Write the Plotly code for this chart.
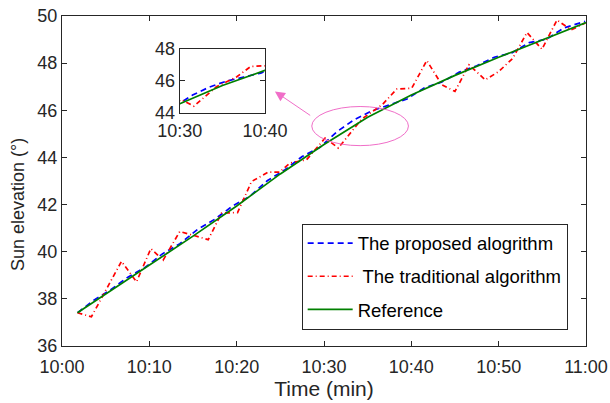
import plotly.graph_objects as go

# ---------------- data (minutes after 10:00, sun elevation in degrees) ----------------
ref_t = [1.77, 5, 10, 15, 20, 25, 30, 35, 40, 45, 50, 55, 60]
ref_v = [37.41, 38.2, 39.42, 40.66, 41.94, 43.3, 44.55, 45.7, 46.65, 47.48, 48.25, 49.0, 49.72]

prop_t = [1.8, 3.5, 5.5, 7.5, 9.5, 11.5, 13.5, 15.5, 17.5, 19.5, 21.5, 23.5, 25.5, 27.5, 29.5,
          31.5, 33.5, 35.5, 37.5, 39.5, 41.5, 43.5, 45.5, 47.5, 49.5, 51.5, 53.5, 55.5, 57.5, 59.9]
prop_v = [37.41, 37.91, 38.37, 38.91, 39.33, 39.91, 40.34, 40.94, 41.38, 41.93, 42.35, 43.01, 43.47, 44.04, 44.42,
          45.10, 45.61, 45.98, 46.23, 46.48, 46.95, 47.20, 47.62, 47.89, 48.25, 48.43, 48.87, 49.02, 49.50, 49.77]

trad_t = [1.77, 3.37, 6.81, 8.53, 10.17, 11.58, 13.49, 14.83, 16.74, 18.27, 20.1, 21.71, 23.62, 24.9,
          26.1, 28.0, 30.12, 31.64, 34.3, 36.7, 38.33, 40.05, 41.77, 43.49, 45.0, 46.6, 48.46, 50.0,
          51.6, 53.24, 54.96, 56.68, 58.3, 59.92]
trad_v = [37.41, 37.24, 39.59, 38.72, 40.13, 39.64, 40.86, 40.72, 40.51, 41.64, 41.66, 42.98, 43.38, 43.38,
          43.76, 43.9, 44.82, 44.4, 45.62, 46.25, 46.9, 46.94, 48.11, 47.08, 46.8, 47.93, 47.29, 47.64,
          48.2, 49.3, 48.59, 49.83, 49.41, 49.7]

x_tickvals = [0, 10, 20, 30, 40, 50, 60]
x_ticktext = ["10:00", "10:10", "10:20", "10:30", "10:40", "10:50", "11:00"]
inset_tickvals = [30, 40]
inset_ticktext = ["10:30", "10:40"]

FONT = "Arial, 'Liberation Sans', sans-serif"
AX = "#262626"
BLUE, RED, GREEN = "#0000ff", "#ff0000", "#008000"
PINK = "#f06ec8"

fig = go.Figure()

series = [
    ("The proposed alogrithm", prop_t, prop_v, BLUE, "6px,4px", "g1"),
    (" The traditional algorithm", trad_t, trad_v, RED, "5px,3px,1px,3px", "g2"),
    ("Reference", ref_t, ref_v, GREEN, "solid", "g3"),
]
for name, t, v, c, d, g in series:
    fig.add_trace(go.Scatter(x=t, y=v, mode="lines", name=name, legendgroup=g,
                             line=dict(color=c, width=1.7, dash=d)))
for name, t, v, c, d, g in series:
    fig.add_trace(go.Scatter(x=t, y=v, mode="lines", name=name, showlegend=False,
                             xaxis="x2", yaxis="y2", line=dict(color=c, width=1.7, dash=d)))

axis_common = dict(showline=True, linecolor=AX, linewidth=1.2, mirror="ticks", ticks="inside",
                   ticklen=5, tickcolor=AX, showgrid=False, zeroline=False, automargin=False,
                   ticklabeloverflow="allow",
                   tickfont=dict(family=FONT, size=18, color=AX))

fig.update_layout(
    width=610, height=403,
    margin=dict(l=62, r=24, t=16, b=57, autoexpand=False),
    paper_bgcolor="white", plot_bgcolor="white",
    font=dict(family=FONT, size=18, color=AX),
    xaxis=dict(range=[0, 60], tickvals=x_tickvals, ticktext=x_ticktext, ticklabelstandoff=4,
               title=dict(text="Time (min)", font=dict(family=FONT, size=21, color=AX), standoff=2),
               **axis_common),
    yaxis=dict(range=[36, 50], dtick=2, **axis_common),
    xaxis2=dict(domain=[0.2249, 0.3873], anchor="y2", range=[30, 40], ticklabelstandoff=2,
                tickvals=inset_tickvals, ticktext=inset_ticktext, **axis_common),
    yaxis2=dict(domain=[0.7074, 0.9002], anchor="x2", range=[44, 48], dtick=2, **axis_common),
    showlegend=True,
    legend=dict(x=0.4574, y=0.3707, xanchor="left", yanchor="top",
                bgcolor="white", bordercolor=AX, borderwidth=1,
                font=dict(family=FONT, size=18.5, color="#000000"),
                tracegroupgap=6, itemwidth=45),
)

# y-axis title (placed as in the reference, slightly below the axis centre)
fig.add_annotation(text="Sun elevation (°)", textangle=-90, xref="paper", yref="paper",
                   x=-0.084, y=0.43, xanchor="center", yanchor="middle", showarrow=False,
                   font=dict(family=FONT, size=18, color=AX))

fig.add_shape(type="circle", xref="x", yref="y", x0=28.6, x1=39.67, y0=44.5, y1=46.16,
              line=dict(color=PINK, width=1))
fig.add_annotation(x=24.38, y=46.8, ax=28.59, ay=45.74, xref="x", yref="y", axref="x", ayref="y",
                   text="", showarrow=True, arrowhead=2, arrowsize=2, arrowwidth=1, arrowcolor=PINK)

# remove the browser's default 8px body margin so the 610x403 figure fills the window exactly
fig.write_html("out.html", config={"displayModeBar": False},
               post_script="document.body.style.margin='0px';")
